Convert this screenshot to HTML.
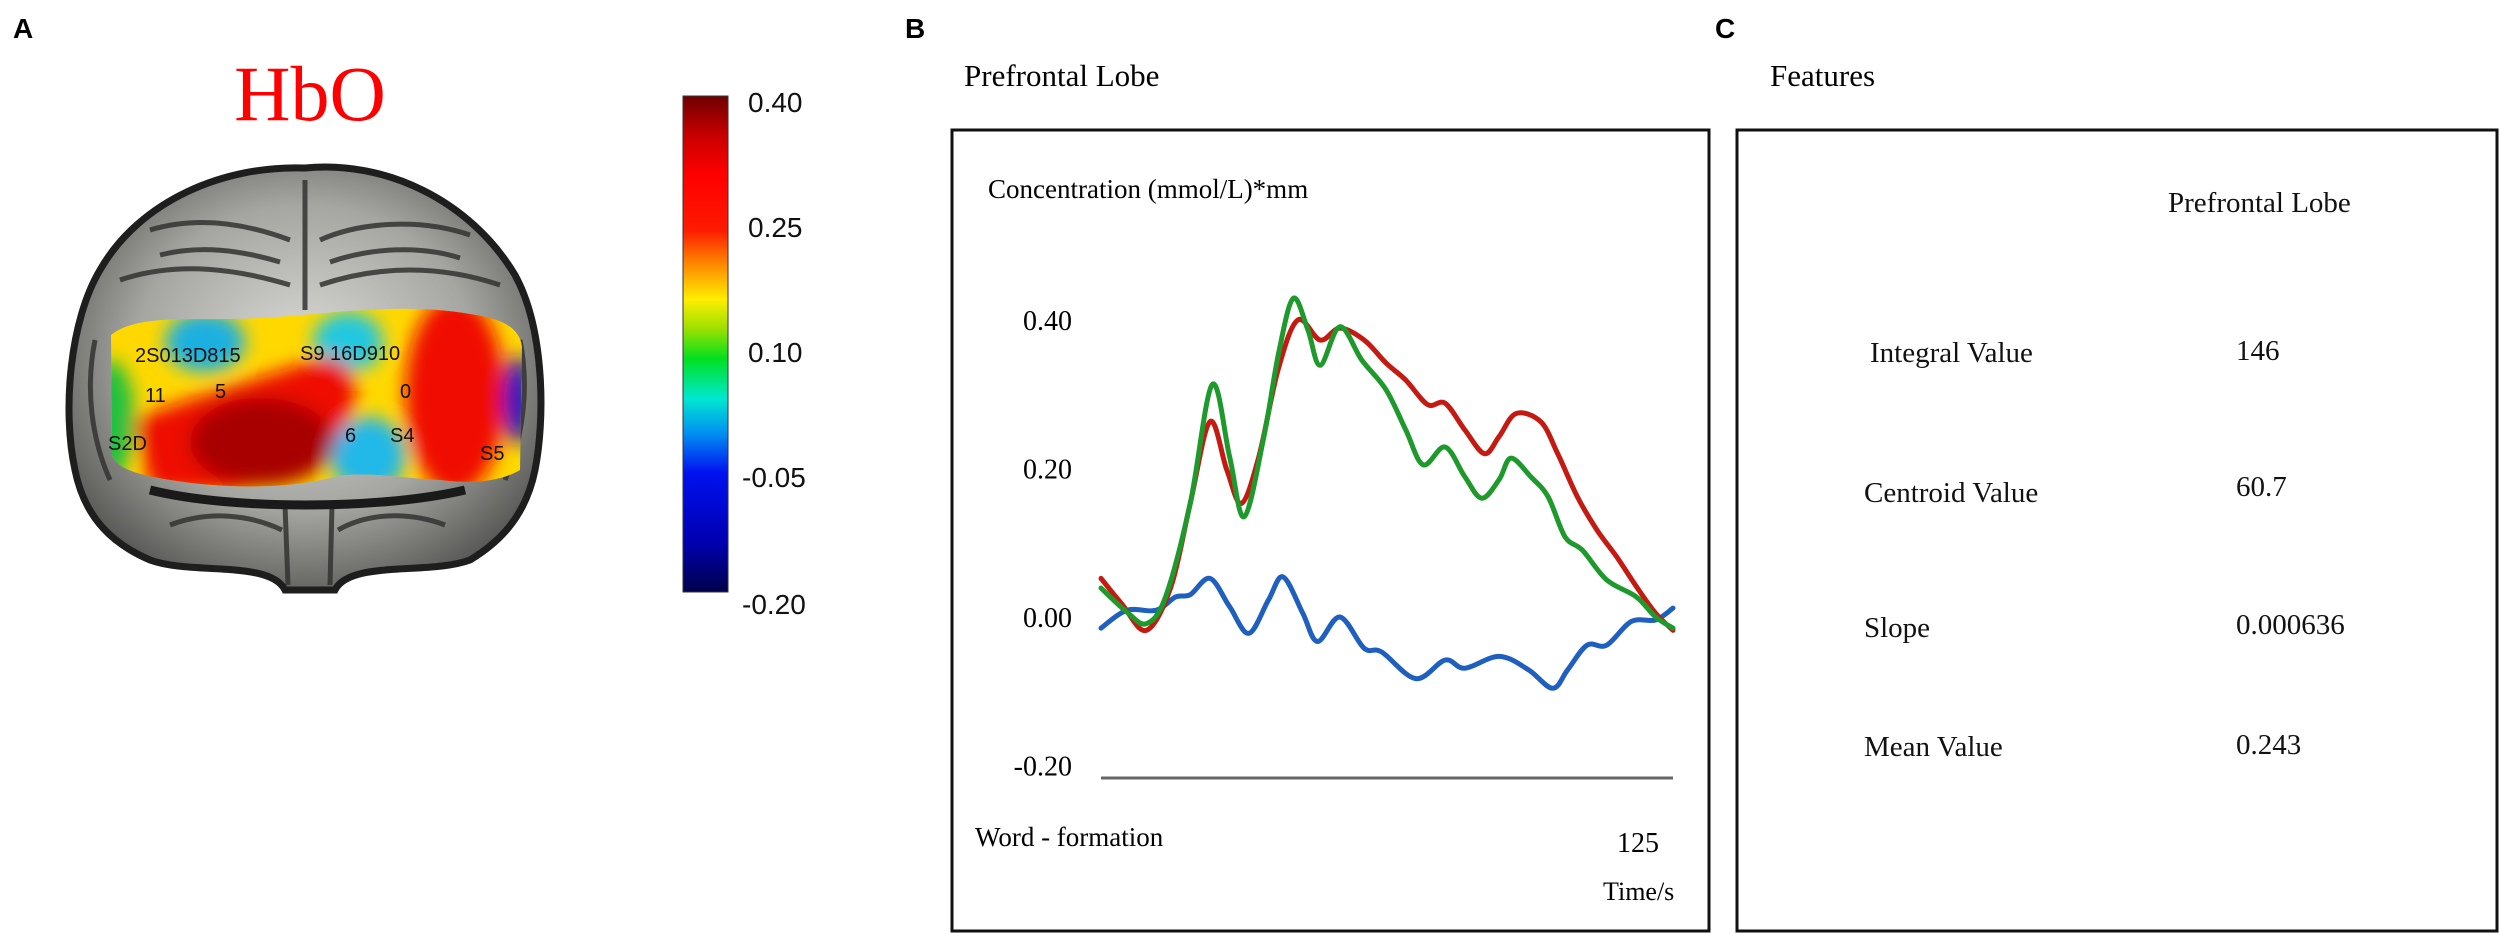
<!DOCTYPE html>
<html><head><meta charset="utf-8"><style>
html,body{margin:0;padding:0;background:#fff;}
body{width:2500px;height:934px;overflow:hidden;position:relative;}
svg{position:absolute;left:0;top:0;}
</style></head><body>
<svg width="2500" height="934" viewBox="0 0 2500 934" xmlns="http://www.w3.org/2000/svg">
<defs>
<linearGradient id="cbar" x1="0" y1="0" x2="0" y2="1">
<stop offset="0" stop-color="#6e0000"/><stop offset="0.08" stop-color="#c80000"/><stop offset="0.16" stop-color="#ff0000"/>
<stop offset="0.27" stop-color="#ff1a00"/><stop offset="0.34" stop-color="#ff8a00"/><stop offset="0.41" stop-color="#ffee00"/>
<stop offset="0.47" stop-color="#9be000"/><stop offset="0.53" stop-color="#00e020"/><stop offset="0.61" stop-color="#00e8d0"/>
<stop offset="0.68" stop-color="#0090f0"/><stop offset="0.76" stop-color="#0010f0"/><stop offset="0.9" stop-color="#0000b0"/><stop offset="1" stop-color="#00004a"/>
</linearGradient>
<radialGradient id="brainG" cx="0.5" cy="0.45" r="0.6">
<stop offset="0" stop-color="#dcdcd9"/><stop offset="0.6" stop-color="#a5a5a1"/><stop offset="1" stop-color="#555553"/>
</radialGradient>
<clipPath id="band"><path d="M111,335 C140,312 200,322 260,318 C330,314 400,302 470,314 C500,318 520,327 522,347 L520,470 C500,482 470,484 440,480 C400,478 360,470 330,478 C280,490 220,488 170,480 C140,475 118,470 112,455 Z"/></clipPath>
<filter id="blur" x="-20%" y="-20%" width="140%" height="140%"><feGaussianBlur stdDeviation="9"/></filter>
</defs>

<text x="13" y="38" font-family="Liberation Sans, sans-serif" font-weight="bold" font-size="28">A</text>
<text x="905" y="38" font-family="Liberation Sans, sans-serif" font-weight="bold" font-size="28">B</text>
<text x="1715" y="38" font-family="Liberation Sans, sans-serif" font-weight="bold" font-size="28">C</text>

<text x="310" y="120" text-anchor="middle" font-family="Liberation Serif, serif" font-size="78" fill="#ff0000">HbO</text>

<g>
<path d="M305,168 C385,160 470,200 515,275 C545,330 545,420 535,470 C525,520 495,545 470,560 C430,575 350,560 335,590 L285,590 C270,560 190,575 150,560 C115,545 85,520 75,470 C62,410 70,320 100,270 C140,200 225,165 305,168 Z" fill="url(#brainG)" stroke="#1e1e1e" stroke-width="7"/>
<g stroke="#333331" stroke-width="5" fill="none" opacity="0.85">
<path d="M305,180 L305,310"/><path d="M150,230 C200,215 250,225 290,240"/><path d="M320,240 C360,222 420,218 470,235"/>
<path d="M120,280 C180,260 240,270 290,285"/><path d="M320,285 C380,265 440,265 500,285"/>
<path d="M160,255 C200,245 240,250 280,262"/><path d="M330,262 C370,248 420,245 460,258"/>
<path d="M170,525 C210,510 250,515 282,530"/><path d="M338,530 C370,512 410,512 445,525"/>
<path d="M285,505 L288,585"/><path d="M332,505 L330,585"/>
<path d="M95,340 C85,390 92,440 110,480"/><path d="M520,340 C530,390 522,440 505,480"/>
</g>
<path d="M150,490 C230,510 380,510 465,490" stroke="#1a1a1a" stroke-width="9" fill="none"/>
<g clip-path="url(#band)">
<rect x="100" y="290" width="430" height="200" fill="#ffd800"/>
<g filter="url(#blur)">
<ellipse cx="110" cy="420" rx="25" ry="60" fill="#20c040"/>
<ellipse cx="205" cy="342" rx="40" ry="30" fill="#1fb0e0"/>
<ellipse cx="348" cy="342" rx="35" ry="30" fill="#20c8e0"/>
<ellipse cx="368" cy="455" rx="38" ry="38" fill="#20b8e8"/>
<path d="M135,420 C180,400 240,385 320,358 C355,352 365,395 345,425 C320,475 250,500 150,490 Z" fill="#ee1000"/>
<ellipse cx="262" cy="442" rx="72" ry="44" fill="#a80000"/>
<ellipse cx="455" cy="395" rx="50" ry="100" fill="#f01000"/>
<ellipse cx="518" cy="400" rx="14" ry="45" fill="#0018c0"/>
</g>
</g>
<g font-family="Liberation Sans, sans-serif" font-size="20" fill="#111">
<text x="135" y="362">2S013D815</text><text x="300" y="360">S9 16D910</text>
<text x="145" y="402">11</text><text x="215" y="398">5</text><text x="400" y="398">0</text>
<text x="108" y="450">S2D</text><text x="345" y="442">6</text><text x="390" y="442">S4</text><text x="480" y="460">S5</text>
</g>
</g>

<g>
<rect x="683" y="96" width="45" height="496" fill="url(#cbar)" stroke="#333" stroke-width="1"/>
</g>
<g font-family="Liberation Sans, sans-serif" font-size="28" fill="#111">
<text x="748" y="112">0.40</text><text x="748" y="237">0.25</text><text x="748" y="362">0.10</text>
<text x="742" y="487">-0.05</text><text x="742" y="614">-0.20</text>
</g>

<text x="964" y="86" font-family="Liberation Serif, serif" font-size="31">Prefrontal Lobe</text>
<rect x="952" y="130" width="757" height="801" fill="none" stroke="#111" stroke-width="3"/>
<text x="988" y="198" font-family="Liberation Serif, serif" font-size="27">Concentration (mmol/L)*mm</text>
<g id="chart"></g>
<text x="975" y="846" font-family="Liberation Serif, serif" font-size="27">Word - formation</text>
<text x="1617" y="852" font-family="Liberation Serif, serif" font-size="28">125</text>
<text x="1603" y="900" font-family="Liberation Serif, serif" font-size="26">Time/s</text>

<text x="1770" y="86" font-family="Liberation Serif, serif" font-size="31">Features</text>
<rect x="1737" y="130" width="760" height="801" fill="none" stroke="#111" stroke-width="3"/>
<g font-family="Liberation Serif, serif" font-size="29" fill="#111">
<text x="2168" y="212">Prefrontal Lobe</text>
<text x="1870" y="362">Integral Value</text><text x="2236" y="360">146</text>
<text x="1864" y="502">Centroid Value</text><text x="2236" y="496">60.7</text>
<text x="1864" y="637">Slope</text><text x="2236" y="634">0.000636</text>
<text x="1864" y="756">Mean Value</text><text x="2236" y="754">0.243</text>
</g>
</svg>
<script>
const yTicks=[0.4,0.2,0,-0.2];
const yTickLabels=["0.40","0.20","0.00","-0.20"];
const redT=[0,4.5,9.9,15.3,19.5,23.8,27.5,30.7,34.5,38.7,43.0,47.9,52.2,57.5,62.3,66.6,71.4,75.2,79.5,83.8,87.0,90.7,96.1,99.8,104.1,108.4,112.7,117.0,121.2,125];
const redV=[0.052,0.018,-0.018,0.041,0.153,0.263,0.198,0.153,0.216,0.333,0.400,0.373,0.389,0.373,0.342,0.319,0.286,0.288,0.252,0.220,0.243,0.274,0.263,0.220,0.162,0.117,0.081,0.041,0.005,-0.018];
const greenT=[0,5.6,9.9,14.1,19.5,24.3,28.1,31.3,35.6,38.8,42.0,45.2,47.9,52.2,57.0,62.3,66.6,70.4,75.2,79.5,83.2,87.0,89.6,93.9,97.7,101.4,105.2,110.5,117.0,121.2,125];
const greenV=[0.039,0.007,-0.009,0.027,0.153,0.313,0.216,0.135,0.243,0.355,0.429,0.387,0.339,0.391,0.346,0.306,0.252,0.205,0.229,0.189,0.160,0.185,0.214,0.189,0.162,0.108,0.090,0.050,0.027,0.000,-0.015];
const blueT=[0,5.6,12.0,16.3,19.5,23.8,28.1,32.3,36.6,39.8,44.1,47.3,52.2,57.5,61.3,68.8,75.2,79.5,87.0,93.4,98.7,102.0,106.2,110.5,115.9,121.2,125];
const blueV=[-0.015,0.009,0.009,0.027,0.030,0.052,0.014,-0.022,0.023,0.054,0.005,-0.033,0.000,-0.042,-0.047,-0.083,-0.058,-0.069,-0.053,-0.071,-0.096,-0.071,-0.038,-0.038,-0.006,-0.004,0.012];

const NS='http://www.w3.org/2000/svg';
const g=document.getElementById('chart');
function xScale(t){return 1101+(t/125)*572;}
function yScale(v){return 617-v*742.5;}

yTicks.forEach((v,i)=>{
  const t=document.createElementNS(NS,'text');
  t.setAttribute('x',1072);t.setAttribute('y',yScale(v)+10);
  t.setAttribute('text-anchor','end');
  t.setAttribute('font-family','Liberation Serif, serif');t.setAttribute('font-size','28');
  t.textContent=yTickLabels[i];
  
  
  g.appendChild(t);
});
const base=document.createElementNS(NS,'line');
base.setAttribute('x1',xScale(0));base.setAttribute('x2',xScale(125));
base.setAttribute('y1',778);base.setAttribute('y2',778);
base.setAttribute('stroke','#666');base.setAttribute('stroke-width','3');


g.appendChild(base);

function smooth(T,V){
  const p=T.map((t,i)=>[xScale(t),yScale(V[i])]);
  let d='M'+p[0][0]+','+p[0][1];
  for(let i=0;i<p.length-1;i++){
    const p0=p[Math.max(0,i-1)],p1=p[i],p2=p[i+1],p3=p[Math.min(p.length-1,i+2)];
    const c1x=p1[0]+(p2[0]-p0[0])/6,c1y=p1[1]+(p2[1]-p0[1])/6;
    const c2x=p2[0]-(p3[0]-p1[0])/6,c2y=p2[1]-(p3[1]-p1[1])/6;
    d+=' C'+c1x+','+c1y+' '+c2x+','+c2y+' '+p2[0]+','+p2[1];
  }
  return d;
}
function addLine(T,V,col,name){
  const p=document.createElementNS(NS,'path');
  p.setAttribute('d',smooth(T,V));p.setAttribute('fill','none');
  p.setAttribute('stroke',col);p.setAttribute('stroke-width','5');
  p.setAttribute('stroke-linejoin','round');p.setAttribute('stroke-linecap','round');
  
  
  g.appendChild(p);
}
addLine(blueT,blueV,'#1f5fbf','series-blue-line');
addLine(redT,redV,'#c41a12','series-red-line');
addLine(greenT,greenV,'#1e9a2c','series-green-line');
</script>
</body></html>
